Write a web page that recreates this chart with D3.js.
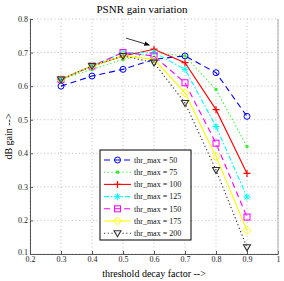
<!DOCTYPE html>
<html>
<head>
<meta charset="utf-8">
<script src="https://cdn.jsdelivr.net/npm/d3@7"></script>
<style>
  body { margin: 0; background: #fff; }
  svg text { font-family: "Liberation Serif", "Times New Roman", serif; }
</style>
</head>
<body>
<div id="chart"></div>
<script>
// data
const xValues = [0.3, 0.4, 0.5, 0.6, 0.7, 0.8, 0.9];
const thr50  = [0.60, 0.63, 0.65, 0.68, 0.69, 0.64, 0.51];
const thr75  = [0.62, 0.65, 0.68, 0.70, 0.69, 0.59, 0.42];
const thr100 = [0.62, 0.66, 0.69, 0.71, 0.67, 0.53, 0.34];
const thr125 = [0.62, 0.66, 0.70, 0.70, 0.65, 0.48, 0.27];
const thr150 = [0.62, 0.66, 0.70, 0.69, 0.61, 0.43, 0.21];
const thr175 = [0.62, 0.66, 0.69, 0.68, 0.58, 0.39, 0.17];
const thr200 = [0.62, 0.66, 0.69, 0.67, 0.55, 0.35, 0.12];
const seriesNames = ["thr_max = 50", "thr_max = 75", "thr_max = 100", "thr_max = 125",
                     "thr_max = 150", "thr_max = 175", "thr_max = 200"];
const xTicks = [0.2, 0.3, 0.4, 0.5, 0.6, 0.7, 0.8, 0.9, 1];
const yTicks = [0.1, 0.2, 0.3, 0.4, 0.5, 0.6, 0.7, 0.8];

const series = [
  { name: seriesNames[0], values: thr50,  color: "#0000ff", dash: "6,4",      marker: "circle" },
  { name: seriesNames[1], values: thr75,  color: "#33ee33", dash: "1.2,2.5",  marker: "dot" },
  { name: seriesNames[2], values: thr100, color: "#ff0000", dash: null,       marker: "plus" },
  { name: seriesNames[3], values: thr125, color: "#00ffff", dash: "5,2,1.5,2", marker: "star" },
  { name: seriesNames[4], values: thr150, color: "#ff00ff", dash: "6,4",      marker: "square" },
  { name: seriesNames[5], values: thr175, color: "#ffff00", dash: null,       marker: "diamond" },
  { name: seriesNames[6], values: thr200, color: "#333333", dash: "1.2,2.5",  marker: "tri" }
];

const W = 284, H = 281;
const margin = { top: 19, right: 6, bottom: 27, left: 30 };
const width = W - margin.left - margin.right,
      height = H - margin.top - margin.bottom;

const svg = d3.select("#chart").append("svg")
    .attr("width", W).attr("height", H);

const g = svg.append("g")
    .attr("transform", "translate(" + margin.left + "," + margin.top + ")");

const x = d3.scaleLinear().domain([0.2, 1]).range([0, width]);
const y = d3.scaleLinear().domain([0.1, 0.8]).range([height, 0]);

// grid
g.append("g").selectAll("line").data(xTicks).enter().append("line")
    .attr("x1", d => x(d)).attr("x2", d => x(d))
    .attr("y1", 0).attr("y2", height)
    .attr("stroke", "#b0b0b0").attr("stroke-width", 0.8)
    .attr("stroke-dasharray", "1,2.5");
g.append("g").selectAll("line").data(yTicks).enter().append("line")
    .attr("y1", d => y(d)).attr("y2", d => y(d))
    .attr("x1", 0).attr("x2", width)
    .attr("stroke", "#b0b0b0").attr("stroke-width", 0.8)
    .attr("stroke-dasharray", "1,2.5");

// axes
const xAxis = g.append("g")
    .attr("transform", "translate(0," + height + ")")
    .call(d3.axisBottom(x).tickValues(xTicks).tickSizeInner(-3).tickSizeOuter(0)
        .tickFormat(d => d === 1 ? "1" : d3.format(".1f")(d)));
const yAxis = g.append("g")
    .call(d3.axisLeft(y).tickValues(yTicks).tickSizeInner(-3).tickSizeOuter(0)
        .tickFormat(d3.format(".1f")));

[xAxis, yAxis].forEach(a => {
  a.select(".domain").attr("stroke", "#555").attr("stroke-width", 1);
  a.selectAll(".tick line").attr("stroke", "#555");
  a.selectAll(".tick text").style("font-size", "8px").attr("fill", "#222");
});
xAxis.selectAll(".tick text").attr("dy", "0.55em").attr("y", 4);
yAxis.selectAll(".tick text").attr("x", -2);
yAxis.selectAll(".tick text").filter(d => d === 0.1).attr("dy", "0.1em");

// right border
g.append("line")
    .attr("x1", width).attr("x2", width).attr("y1", 0).attr("y2", height)
    .attr("stroke", "#999").attr("stroke-width", 0.8);

// markers
function drawMarker(sel, type, color, cx, cy) {
  if (type === "circle") {
    sel.append("circle").attr("cx", cx).attr("cy", cy).attr("r", 3)
      .attr("fill", "none").attr("stroke", color).attr("stroke-width", 1);
  } else if (type === "dot") {
    sel.append("rect").attr("x", cx - 1.5).attr("y", cy - 1.5).attr("width", 3).attr("height", 3)
      .attr("fill", color);
  } else if (type === "plus") {
    sel.append("path").attr("d", `M${cx-3.5},${cy}H${cx+3.5}M${cx},${cy-3.5}V${cy+3.5}`)
      .attr("stroke", color).attr("stroke-width", 1.2);
  } else if (type === "star") {
    sel.append("path").attr("d",
      `M${cx-3.5},${cy}H${cx+3.5}M${cx},${cy-3.5}V${cy+3.5}M${cx-2.5},${cy-2.5}L${cx+2.5},${cy+2.5}M${cx-2.5},${cy+2.5}L${cx+2.5},${cy-2.5}`)
      .attr("stroke", color).attr("stroke-width", 1);
  } else if (type === "square") {
    sel.append("rect").attr("x", cx - 3).attr("y", cy - 3).attr("width", 6).attr("height", 6)
      .attr("fill", "none").attr("stroke", color).attr("stroke-width", 1);
  } else if (type === "diamond") {
    sel.append("path").attr("d", `M${cx},${cy-4}L${cx+4},${cy}L${cx},${cy+4}L${cx-4},${cy}Z`)
      .attr("fill", "none").attr("stroke", color).attr("stroke-width", 1);
  } else if (type === "tri") {
    sel.append("path").attr("d", `M${cx-3.5},${cy-2.5}L${cx+3.5},${cy-2.5}L${cx},${cy+3.5}Z`)
      .attr("fill", "none").attr("stroke", color).attr("stroke-width", 1.1);
  }
}

const line = d3.line().x((d, i) => x(xValues[i])).y(d => y(d));

series.forEach(s => {
  g.append("path")
    .datum(s.values)
    .attr("d", line)
    .attr("fill", "none")
    .attr("stroke", s.color)
    .attr("stroke-width", 1.1)
    .attr("stroke-dasharray", s.dash);
  const mg = g.append("g");
  s.values.forEach((v, i) => drawMarker(mg, s.marker, s.color, x(xValues[i]), y(v)));
});

// arrow annotation
svg.append("defs").append("marker")
    .attr("id", "arrowhead")
    .attr("viewBox", "0 0 10 10").attr("refX", 9).attr("refY", 5)
    .attr("markerWidth", 7).attr("markerHeight", 7).attr("orient", "auto")
  .append("path").attr("d", "M0,1L10,5L0,9Z").attr("fill", "#000");
g.append("line")
    .attr("x1", x(0.51)).attr("y1", y(0.743))
    .attr("x2", x(0.585)).attr("y2", y(0.722))
    .attr("stroke", "#000").attr("stroke-width", 0.8)
    .attr("marker-end", "url(#arrowhead)");

// legend
const legend = g.append("g").attr("transform", "translate(" + (100 - margin.left) + "," + (150 - margin.top) + ")");
legend.append("rect")
    .attr("width", 91).attr("height", 90)
    .attr("fill", "#fff").attr("stroke", "#000").attr("stroke-width", 1);
series.forEach((s, i) => {
  const ly = 10 + i * 12.2;
  legend.append("line")
    .attr("x1", 4).attr("x2", 31).attr("y1", ly).attr("y2", ly)
    .attr("stroke", s.color).attr("stroke-width", 1.1)
    .attr("stroke-dasharray", s.dash);
  drawMarker(legend, s.marker, s.color, 17.5, ly);
  legend.append("text")
    .attr("x", 34).attr("y", ly).attr("dy", "0.35em")
    .style("font-size", "8px").attr("fill", "#111")
    .text(s.name);
});

// title and axis labels
svg.append("text")
    .attr("x", 142).attr("y", 13)
    .attr("text-anchor", "middle")
    .style("font-size", "11px")
    .text("PSNR gain variation");
svg.append("text")
    .attr("x", margin.left + width / 2).attr("y", 277)
    .attr("text-anchor", "middle")
    .style("font-size", "10px")
    .text("threshold decay factor -->");
svg.append("text")
    .attr("transform", "translate(12," + (margin.top + height / 2) + ") rotate(-90)")
    .attr("text-anchor", "middle")
    .style("font-size", "10px")
    .text("dB gain -->");
</script>
</body>
</html>
